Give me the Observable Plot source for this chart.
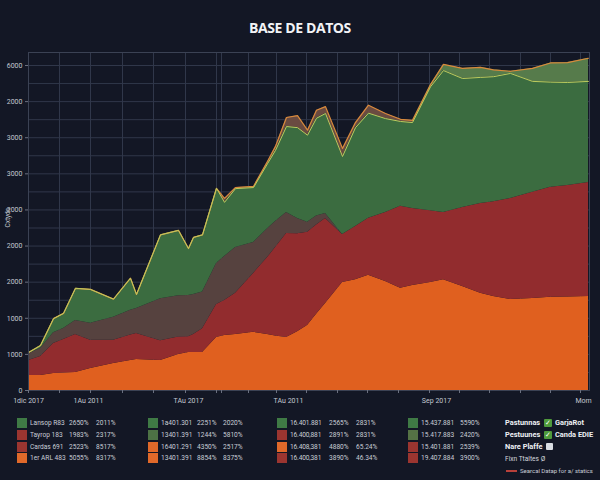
<!DOCTYPE html>
<html>
<head>
<meta charset="utf-8">
<script src="https://cdn.jsdelivr.net/npm/d3@7"></script>
<script src="https://cdn.jsdelivr.net/npm/@observablehq/plot@0.6"></script>
<style>
  html, body { margin: 0; padding: 0; background: #131725; }
  body { width: 600px; height: 480px; position: relative; overflow: hidden; font-family: "Open Sans", "DejaVu Sans", sans-serif; }
  #title { position: absolute; top: 18px; left: 0; width: 600px; text-align: center; color: #f2f3f6; font-weight: 700; font-size: 14px; letter-spacing: -0.4px; }
  #chart { position: absolute; top: 40px; left: 0; }
  .lg { position: absolute; font-family: Roboto, "DejaVu Sans", sans-serif; font-size: 6.6px; line-height: 10px; color: #c9cdd6; white-space: nowrap; }
  .sw { position: absolute; width: 10px; height: 10px; }
  .rb { position: absolute; font-family: Roboto, "DejaVu Sans", sans-serif; font-size: 7.4px; line-height: 10px; color: #eef0f4; font-weight: 700; white-space: nowrap; }
  .cb { position: absolute; width: 8px; height: 8px; border-radius: 1px; font-size: 7px; line-height: 8px; text-align: center; color: #fff; font-weight: 700; }
</style>
</head>
<body>
<div id="title">BASE DE DATOS</div>
<div id="chart"></div>
<div id="legend"></div>
<script>
// ---- data ----
const days = [0, 12, 25, 35, 47, 62, 85, 102, 108, 132, 150, 160, 165, 174, 188, 196, 207, 225, 239, 247, 258, 269, 279, 288, 297, 314, 327, 340, 357, 372, 384, 402, 415, 434, 452, 465, 482, 504, 522, 539, 560];
const seriesNames = ["Naranja", "Rojo", "Marrón", "Verde", "Gris", "Oliva"];
const seriesColors = ["#e0601f", "#922c2e", "#56423f", "#3b6c40", "#6a4b41", "#567b4b"];
const naranja = [415, 415, 470, 485, 500, 610, 750, 830, 860, 830, 1000, 1050, 1050, 1050, 1470, 1520, 1550, 1610, 1550, 1510, 1470, 1630, 1800, 2110, 2410, 2990, 3070, 3190, 3020, 2830, 2910, 2990, 3070, 2880, 2690, 2600, 2520, 2550, 2580, 2590, 2600];
const rojo = [415, 530, 830, 930, 1050, 780, 640, 710, 720, 550, 485, 440, 500, 660, 910, 970, 1140, 1630, 2130, 2450, 2880, 2710, 2580, 2470, 2350, 1330, 1470, 1580, 1910, 2270, 2130, 1990, 1860, 2190, 2490, 2630, 2800, 2940, 3050, 3090, 3160];
const marron = [190, 220, 300, 300, 390, 470, 640, 680, 690, 1160, 1140, 1140, 1110, 1020, 1140, 1220, 1270, 860, 800, 720, 580, 420, 280, 250, 140, 0, 0, 0, 0, 0, 0, 0, 0, 0, 0, 0, 0, 0, 0, 0, 0];
const verde = [30, 80, 390, 420, 890, 940, 500, 890, 390, 1770, 1810, 1300, 1580, 1580, 2080, 1500, 1630, 1520, 1800, 1970, 2380, 2520, 2410, 2710, 2770, 2160, 2740, 2910, 2600, 2350, 2380, 3430, 3930, 3570, 3490, 3460, 3460, 3070, 2910, 2850, 2800];
const gris = [0, 0, 0, 0, 0, 0, 0, 0, 0, 0, 0, 0, 0, 0, 0, 110, 30, 30, 60, 110, 250, 330, 140, 220, 190, 220, 140, 220, 140, 60, 60, 0, 0, 0, 0, 0, 0, 0, 0, 0, 0];
const oliva = [0, 0, 0, 0, 0, 0, 0, 0, 0, 0, 0, 0, 0, 0, 0, 0, 0, 0, 0, 0, 0, 0, 0, 0, 0, 0, 0, 0, 0, 0, 0, 60, 170, 280, 280, 190, 60, 360, 530, 550, 640];

const yTicks = [0, 1000, 2000, 3000, 4000, 5000, 6000, 7000, 8000, 9000];
const yLabels = ["0", "1000", "1000", "2000", "2000", "2000", "3000", "3000", "2000", "6000"];
const xLabelTicks = [0, 60, 160, 260, 408, 555];
const xLabels = ["1dic 2017", "1Au 2011", "TAu 2017", "TAu 2011", "Sep 2017", "Mom"];
const xGridTicks = [0, 31, 62, 94, 125, 157, 188, 193, 220, 248, 278, 309, 339, 370, 401, 431, 461, 492, 522, 552];
const yGridTicks = [500, 1000, 1500, 2000, 2500, 3000, 3500, 4000, 4500, 5000, 5500, 6000, 6500, 7000, 7500, 8000, 8500, 9000];
const yTitle = "Cxtyds";

// legend data
const legNames = [
  ["Lansop R83", "Tayrop 183", "Cardas 691", "1er ARL 483"],
  ["1a401.301", "13401.391", "16401.291", "13401.391"],
  ["16.401.881", "16.400,881", "16.408,381", "16.400,381"],
  ["15.437.881", "15.417.883", "15.401.881", "19.407.884"]
];
const legP1 = [
  ["2650%", "1983%", "2523%", "5055%"],
  ["2251%", "1244%", "4350%", "8854%"],
  ["2565%", "2891%", "4880%", "3890%"],
  ["5590%", "2420%", "2539%", "3900%"]
];
const legP2 = [
  ["2011%", "2317%", "8517%", "8317%"],
  ["2020%", "5810%", "2517%", "8375%"],
  ["2831%", "2831%", "65.24%", "46.34%"],
  ["", "", "", ""]
];
const legColors = [
  ["#3f7a45", "#9b3530", "#9b3530", "#e0692a"],
  ["#3f7a45", "#4d7245", "#e0692a", "#e0692a"],
  ["#3f7a45", "#9b3530", "#e0692a", "#9b3530"],
  ["#3f7a45", "#557245", "#9b3530", "#9b3530"]
];
const rightRows = [
  ["Pastunnas", "✓", "GarjaRot"],
  ["Pestuunes", "✓", "Canda EDIE"],
  ["Nare Plaffe", "▫", ""]
];
const noteText = "Fixn Ttaltes Ø";
const lineNote = "Searcal Datap for a/ statics";

// ---- build ----
const allSeries = [naranja, rojo, marron, verde, gris, oliva];
const rows = [];
days.forEach((d, i) => {
  seriesNames.forEach((s, j) => rows.push({day: d, series: s, value: allSeries[j][i]}));
});
const tops = days.map((d, i) => {
  const g = naranja[i] + rojo[i] + marron[i] + verde[i];
  return {day: d, green: g, total: g + gris[i] + oliva[i]};
});
const yMap = new Map(yTicks.map((t, i) => [t, yLabels[i]]));
const xMap = new Map(xLabelTicks.map((t, i) => [t, xLabels[i]]));

const chart = Plot.plot({
  width: 600,
  height: 370,
  marginTop: 12,
  marginLeft: 28,
  marginRight: 11,
  marginBottom: 20,
  style: {background: "transparent", color: "#c3c7d0", fontSize: "7px", fontFamily: "Roboto, DejaVu Sans, sans-serif"},
  x: {domain: [0, 561], axis: null, label: null},
  y: {domain: [0, 9360], axis: null, label: null},
  color: {domain: seriesNames, range: seriesColors},
  marks: [
    Plot.gridY(yGridTicks, {stroke: "#30374a", strokeOpacity: 1, strokeWidth: 1}),
    Plot.gridX(xGridTicks, {stroke: "#30374a", strokeOpacity: 1, strokeWidth: 1}),
    Plot.areaY(rows, {x: "day", y: "value", fill: "series", order: seriesNames, curve: "linear"}),
    Plot.lineY(tops, {x: "day", y: "total", stroke: "#d98a3c", strokeWidth: 1.2}),
    Plot.lineY(tops, {x: "day", y: "green", stroke: "#bccb5e", strokeWidth: 1}),
    Plot.frame({stroke: "#3b4254", strokeWidth: 1}),
    Plot.axisY(yTicks, {tickFormat: d => yMap.get(d), tickSize: 3, tickPadding: 3, stroke: "#6b7080", fill: "#c3c7d0", label: null}),
    Plot.axisX(xGridTicks, {tickFormat: () => "", tickSize: 3, stroke: "#6b7080", label: null}),
    Plot.axisX(xLabelTicks, {tickFormat: d => xMap.get(d), tickSize: 0, tickPadding: 8, fill: "#c3c7d0", label: null}),
    Plot.text([yTitle], {text: d => d, frameAnchor: "left", dx: -21, dy: 6, rotate: -90, fill: "#c3c7d0", fontSize: 6.5})
  ]
});
document.getElementById("chart").appendChild(chart);

// legend
const L = document.getElementById("legend");
const swX = [17, 148, 277, 408];
const nameX = [30, 161, 290, 421];
const p1X = [69, 197, 329, 460];
const p2X = [96, 223, 356, 0];
const rowY = [423, 435, 447, 458];
function add(cls, x, y, txt, extra) {
  const el = document.createElement("div");
  el.className = cls;
  el.style.left = x + "px";
  el.style.top = y + "px";
  if (txt !== undefined) el.textContent = txt;
  if (extra) Object.assign(el.style, extra);
  L.appendChild(el);
  return el;
}
for (let c = 0; c < 4; c++) {
  for (let r = 0; r < 4; r++) {
    const y = rowY[r] - 5;
    add("sw", swX[c], y, undefined, {background: legColors[c][r]});
    add("lg", nameX[c], y, legNames[c][r], c === 2 ? {letterSpacing: "-0.15px"} : null);
    add("lg", p1X[c], y, legP1[c][r]);
    if (legP2[c][r]) add("lg", p2X[c], y, legP2[c][r]);
  }
}
rightRows.forEach((row, r) => {
  const y = rowY[r] - 5;
  add("rb", 505, y, row[0]);
  if (row[1] === "✓") add("cb", 544, y + 1, "✓", {background: "#4f9a3c"});
  else add("cb", 546, y + 1, "", {background: "#d9dce2", width: "7px", height: "7px"});
  if (row[2]) add("rb", 555, y, row[2]);
});
add("lg", 505, 454, noteText, {fontSize: "6.6px", color: "#d4d7de"});
add("sw", 506, 470, undefined, {background: "#b8403a", width: "11px", height: "2px"});
add("lg", 520, 466, lineNote, {fontSize: "6px", color: "#c9cdd6"});
</script>
</body>
</html>
